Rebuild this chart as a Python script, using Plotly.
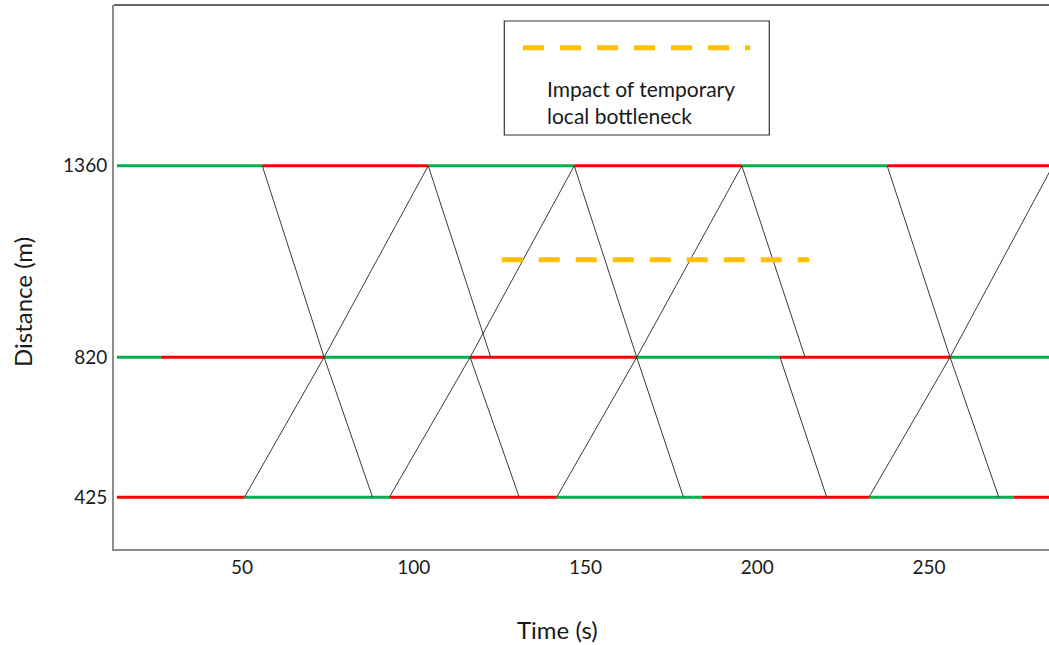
import plotly.graph_objects as go

# ---------------- data ----------------
positions = [425, 820, 1360]          # stop-line positions (m)
t_start, t_end = 13.6, 290.0          # extent of signal bars (s)

# signal phases per position: switch times and colour of each phase
sig_425_times = [t_start, 50.7, 92.9, 141.6, 183.8, 232.5, 274.5, t_end]
sig_425_cols = ["red", "green", "red", "green", "red", "green", "red"]
sig_820_times = [t_start, 26.4, 73.9, 116.4, 164.9, 206.6, 256.1, t_end]
sig_820_cols = ["green", "red", "green", "red", "green", "red", "green"]
sig_1360_times = [t_start, 55.9, 104.2, 146.7, 195.5, 237.8, t_end]
sig_1360_cols = ["green", "red", "green", "red", "green", "red"]

# trajectories (time, distance)
up_times = [[50.7, 73.9, 104.2], [92.9, 116.4, 146.7],
            [141.6, 164.9, 195.5], [232.5, 256.1, 286.0]]
up_dist = [425, 820, 1360]
down_times = [[55.9, 73.9, 88.0], [104.2, 122.4], [116.4, 130.7],
              [146.7, 164.9, 178.5], [195.5, 213.9], [206.6, 220.2],
              [237.8, 256.1, 270.3]]
down_dist = [[1360, 820, 425], [1360, 820], [820, 425],
             [1360, 820, 425], [1360, 820], [820, 425],
             [1360, 820, 425]]

# temporary bottleneck impact
bottleneck_t = [125.6, 215.1]
bottleneck_d = [1095, 1095]

x_ticks = [50, 100, 150, 200, 250]
y_ticks = [425, 820, 1360]

COL = {"red": "#FF0000", "green": "#00B050"}
FONT = "Lato, 'Noto Sans', sans-serif"

fig = go.Figure()

signals = [(425, sig_425_times, sig_425_cols),
           (820, sig_820_times, sig_820_cols),
           (1360, sig_1360_times, sig_1360_cols)]
for colname in ["green", "red"]:
    xs, ys = [], []
    for pos, times, cols in signals:
        for i, c in enumerate(cols):
            if c == colname:
                xs += [times[i], times[i + 1], None]
                ys += [pos, pos, None]
    fig.add_trace(go.Scatter(x=xs, y=ys, mode="lines",
                             line=dict(color=COL[colname], width=3),
                             hoverinfo="skip", showlegend=False))

xs, ys = [], []
for tt in up_times:
    xs += tt + [None]
    ys += up_dist + [None]
for tt, dd in zip(down_times, down_dist):
    xs += tt + [None]
    ys += dd + [None]
fig.add_trace(go.Scatter(x=xs, y=ys, mode="lines",
                         line=dict(color="#3a3a3a", width=1),
                         hoverinfo="skip", showlegend=False))

fig.add_trace(go.Scatter(x=bottleneck_t, y=bottleneck_d, mode="lines",
                         line=dict(color="#FFC000", width=5, dash="21px,16px"),
                         hoverinfo="skip", showlegend=False))

# ---------------- layout ----------------
L, R, T, B = 114, 1049, 5, 549
W = R - L
H = B - T

def px(x):
    return (x - L) / W

def py(y):
    return (B - y) / H

fig.update_layout(
    width=1049, height=645,
    margin=dict(l=L, r=1049 - R, t=T, b=645 - B),
    paper_bgcolor="white", plot_bgcolor="white",
    font=dict(family=FONT, size=19, color="#1a1a1a"),
    showlegend=False,
    xaxis=dict(range=[12.74, 284.9], tickvals=x_ticks, showgrid=False,
               zeroline=False, showline=True, linecolor="#8c8c8c",
               linewidth=2, ticks="", ticklen=0,
               tickfont=dict(size=19)),
    yaxis=dict(range=[279, 1813.6], tickvals=y_ticks, showgrid=False,
               zeroline=False, showline=True, linecolor="#8c8c8c",
               linewidth=2, ticks="outside", ticklen=1,
               tickcolor="rgba(0,0,0,0)", tickfont=dict(size=19)),
    shapes=[
        dict(type="line", xref="paper", yref="paper", x0=0, x1=1,
             y0=1, y1=1, line=dict(color="#333333", width=1.5)),
        dict(type="rect", xref="paper", yref="paper",
             x0=px(504.3), x1=px(769.3), y0=py(135), y1=py(21),
             line=dict(color="#333333", width=1.2), fillcolor="white",
             layer="below"),
        dict(type="line", xref="paper", yref="paper",
             x0=px(523), x1=px(750), y0=py(47.7), y1=py(47.7),
             line=dict(color="#FFC000", width=5, dash="21px,16px")),
    ],
    annotations=[
        dict(text="Impact of temporary<br>local bottleneck", xref="paper",
             yref="paper", x=px(545), y=py(102), xanchor="left",
             yanchor="middle", align="left", showarrow=False,
             font=dict(size=21)),
        dict(text="Distance (m)", xref="paper", yref="paper",
             x=px(22), y=py(302), textangle=-90, showarrow=False,
             xanchor="center", yanchor="middle", font=dict(size=24)),
        dict(text="Time (s)", xref="paper", yref="paper",
             x=px(557.5), y=py(629), showarrow=False,
             xanchor="center", yanchor="middle", font=dict(size=24)),
    ],
)

fig.write_html("out.html", config={"displayModeBar": False},
               post_script="document.body.style.margin='0';")
